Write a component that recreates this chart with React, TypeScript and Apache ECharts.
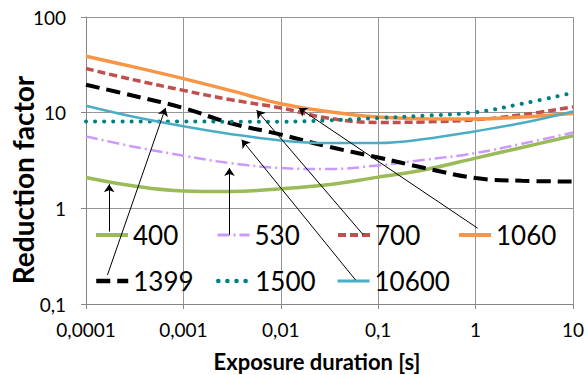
import React, { useEffect, useRef } from "react";
import * as echarts from "echarts";

const durations = [0.0001, 0.0003, 0.001, 0.003, 0.01, 0.03, 0.1, 0.3, 1, 3, 10];
const s400 = [2.1, 1.72, 1.52, 1.5, 1.6, 1.76, 2.12, 2.53, 3.35, 4.33, 5.74];
const s530 = [5.65, 4.44, 3.55, 2.97, 2.64, 2.57, 2.81, 3.22, 3.78, 4.74, 6.2];
const s700 = [28.9, 22.2, 17.1, 13.7, 11.2, 8.8, 7.9, 8.0, 8.45, 9.5, 11.5];
const s1060 = [38.9, 30.3, 22.7, 17.1, 12.4, 10.3, 9.0, 8.65, 8.6, 9.0, 9.8];
const s1399 = [19.6, 15.1, 11.2, 7.8, 5.9, 4.44, 3.4, 2.64, 2.07, 1.94, 1.91];
const s1500 = [8.1, 8.1, 8.1, 8.05, 8.05, 8.3, 8.8, 9.3, 10.1, 12.4, 16.1];
const s10600 = [11.8, 9.1, 7.2, 6.0, 5.13, 4.82, 4.82, 5.3, 6.4, 7.8, 10.3];

const xTickLabels = ["0,0001", "0,001", "0,01", "0,1", "1", "10"];
const yTickLabels = ["0,1", "1", "10", "100"];

// arrows: [from x, from y, to x, to y] in data coordinates
const arrows: [number, number, number, number][] = [
  [1.73e-4, 0.571, 1.73e-4, 1.79],
  [1.66e-4, 0.201, 6.55e-4, 11.2],
  [2.97e-3, 0.528, 2.97e-3, 2.64],
  [5.86e-2, 0.178, 3.97e-3, 5.21],
  [7.03e-2, 0.528, 5.65e-3, 10.6],
  [1.05, 0.62, 1.53e-2, 11.2],
];

const FONT = "Lato";

export default function App() {
  const ref = useRef<HTMLDivElement>(null);
  useEffect(() => {
    if (!ref.current) return;
    const chart = echarts.init(ref.current, undefined, { renderer: "svg" });
    const mk = (vals: number[]) => durations.map((d, i) => [d, vals[i]]);
    const seriesDefs = [
      { name: "400", data: s400, color: "#9BBB59", width: 3.5, type: "solid" as any, cap: "butt" },
      { name: "530", data: s530, color: "#CC99FF", width: 2.5, type: [12, 4, 2, 4], cap: "butt" },
      { name: "700", data: s700, color: "#C0504D", width: 3.5, type: [8, 4], cap: "butt" },
      { name: "1060", data: s1060, color: "#F79646", width: 3.5, type: "solid", cap: "butt" },
      { name: "1399", data: s1399, color: "#000000", width: 4, type: [14, 7], cap: "butt" },
      { name: "1500", data: s1500, color: "#008080", width: 4, type: [0.1, 9], cap: "round" },
      { name: "10600", data: s10600, color: "#4BACC6", width: 2.5, type: "solid", cap: "butt" },
    ];
    const series: any[] = seriesDefs.map((s) => ({
      name: s.name,
      type: "line",
      data: mk(s.data),
      symbol: "none",
      smooth: 0.4,
      color: s.color,
      lineStyle: { color: s.color, width: s.width, type: s.type, cap: s.cap },
      z: 3,
    }));
    series.push({
      name: "arrows",
      type: "line",
      data: [],
      silent: true,
      z: 5,
      markLine: {
        silent: true,
        symbol: ["none", "arrow"],
        symbolSize: 8,
        label: { show: false },
        lineStyle: { color: "#000", width: 1, type: "solid" },
        itemStyle: { color: "#000" },
        data: arrows.map((a) => [
          { coord: [a[0], a[1]] },
          { coord: [a[2], a[3]] },
        ]),
      },
    });
    const legendPos = [
      { name: "400", left: 94, top: 222 },
      { name: "530", left: 216, top: 222 },
      { name: "700", left: 336, top: 222 },
      { name: "1060", left: 457, top: 222 },
      { name: "1399", left: 94, top: 268 },
      { name: "1500", left: 216, top: 268 },
      { name: "10600", left: 336, top: 268 },
    ];
    const legend = legendPos.map((l) => {
      const def = seriesDefs.find((s) => s.name === l.name)!;
      return {
        data: [l.name],
        left: l.left,
        top: l.top,
        orient: "horizontal",
        padding: 0,
        itemWidth: 32,
        itemHeight: 14,
        selectedMode: false,
        itemStyle: { color: "rgba(0,0,0,0)", borderColor: "rgba(0,0,0,0)", borderWidth: 0, opacity: 0 },
        lineStyle: { width: def.width + 0.5, color: def.color, type: def.type, cap: def.cap },
        textStyle: { fontSize: 26, fontFamily: FONT, color: "#000", lineHeight: 26 },
      };
    });
    chart.setOption({
      animation: false,
      backgroundColor: "#fff",
      grid: { left: 86, right: 11, top: 17, bottom: 71, containLabel: false },
      legend,
      xAxis: {
        type: "log",
        logBase: 10,
        min: 0.0001,
        max: 10,
        axisLine: { show: true, lineStyle: { color: "#868686", width: 1 } },
        axisTick: { show: true, length: 5, lineStyle: { color: "#868686" } },
        axisLabel: {
          fontSize: 19,
          fontFamily: FONT,
          color: "#000",
          margin: 16,
          formatter: (v: number) => xTickLabels[Math.round(Math.log10(v)) + 4] ?? "",
        },
        splitLine: { show: true, lineStyle: { color: "#969696", width: 1 } },
      },
      yAxis: {
        type: "log",
        logBase: 10,
        min: 0.1,
        max: 100,
        axisLine: { show: true, lineStyle: { color: "#868686", width: 1 } },
        axisTick: { show: true, length: 5, lineStyle: { color: "#868686" } },
        axisLabel: {
          fontSize: 19,
          fontFamily: FONT,
          color: "#000",
          margin: 20,
          formatter: (v: number) => yTickLabels[Math.round(Math.log10(v)) + 1] ?? "",
        },
        splitLine: { show: true, lineStyle: { color: "#969696", width: 1 } },
      },
      graphic: [
        {
          type: "text",
          x: 23,
          y: 180,
          rotation: Math.PI / 2,
          style: {
            text: "Reduction factor",
            font: `bold 28px ${FONT}`,
            fill: "#000",
            align: "center",
            verticalAlign: "middle",
          },
        },
        {
          type: "text",
          x: 317,
          y: 361,
          style: {
            text: "Exposure duration [s]",
            font: `bold 22px ${FONT}`,
            fill: "#000",
            align: "center",
            verticalAlign: "middle",
          },
        },
      ],
      series,
    });
    return () => chart.dispose();
  }, []);
  return <div ref={ref} style={{ width: 587, height: 375, position: "absolute", left: 0, top: 0 }} />;
}
